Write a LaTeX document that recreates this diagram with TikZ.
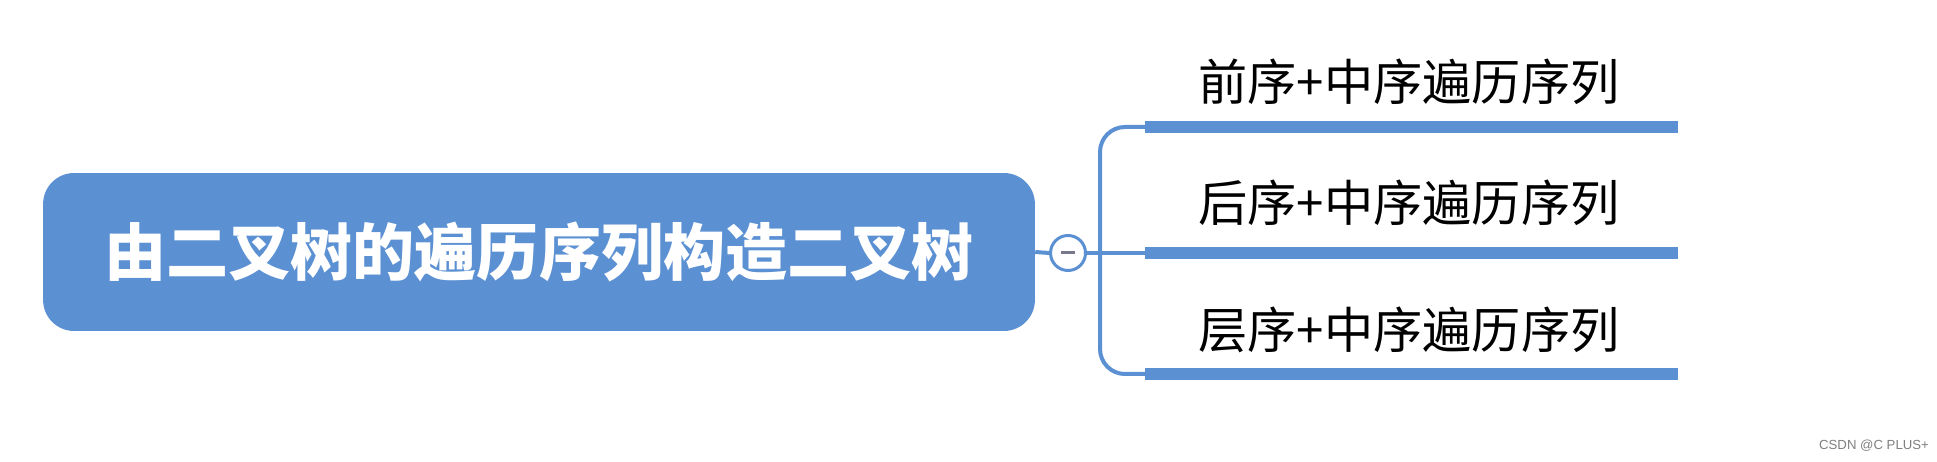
\documentclass[tikz,border=0pt]{standalone}
\usepackage{fontspec}
\newfontfamily\cjk{Noto Sans CJK SC}
\newfontfamily\markfont{Liberation Sans}
\usepackage{tikz}
\usetikzlibrary{positioning}

\definecolor{mapblue}{RGB}{91,144,211}
\definecolor{foldgray}{RGB}{120,120,140}

\begin{document}
\begin{tikzpicture}[x=0.02cm,y=-0.02cm,
  root/.style={fill=mapblue,rounded corners=0.62cm,minimum width=19.84cm,minimum height=3.16cm,
    text=white,font=\cjk\bfseries\fontsize{35.3}{40}\selectfont},
  fold/.style={circle,draw=mapblue,line width=0.06cm,fill=white,minimum size=0.7cm,inner sep=0pt},
  topic/.style={font=\cjk\fontsize{28}{32}\selectfont,inner sep=0pt},
  bar/.style={draw=mapblue,line width=0.25cm},
  link/.style={draw=mapblue,line width=0.08cm,rounded corners=0.5cm}]

\useasboundingbox (0,0) rectangle (1937,462);

\node[root] (root) at (539,252) {由二叉树的遍历序列构造二叉树};
\node[fold] (fold) at (1068,253) {};
\draw[foldgray,line width=0.06cm] ([xshift=-0.14cm]fold.center) -- ([xshift=0.14cm]fold.center);

\node[topic] (pre) at (1409,82) {前序+中序遍历序列};
\node[topic] (post) at (1409,203) {后序+中序遍历序列};
\node[topic] (lvl) at (1409,330) {层序+中序遍历序列};

% underlines of the three topics
\coordinate (pre s) at (1145,127);  \coordinate (pre e) at (1678,127);
\coordinate (post s) at (1145,253); \coordinate (post e) at (1678,253);
\coordinate (lvl s) at (1145,374);  \coordinate (lvl e) at (1678,374);
\coordinate (trunk) at (1100,253);

\draw[link] (root.east) -- (fold.west);
\draw[link] (fold.east) -- (post s);
\draw[link] (pre s) -| (trunk) |- (lvl s);
\foreach \t in {pre,post,lvl}{\draw[bar] (\t\space s) -- (\t\space e);}

\node[font=\markfont\fontsize{7.5}{9}\selectfont,text=gray] (mark) at (1874,446) {CSDN @C PLUS+};
\end{tikzpicture}
\end{document}
